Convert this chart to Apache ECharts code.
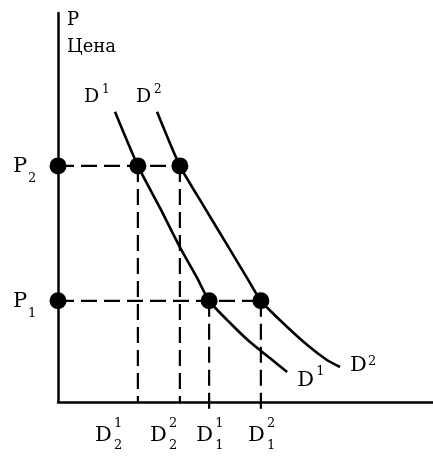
<!DOCTYPE html>
<html>
<head>
<meta charset="utf-8">
<script src="https://cdn.jsdelivr.net/npm/echarts@6/dist/echarts.min.js"></script>
<style>
html,body{margin:0;padding:0;background:#fff;}
#main{width:433px;height:456px;}
</style>
</head>
<body>
<div id="main"></div>
<script>
// кривые спроса (Q, P)
var d1Curve = [[15.2,74.6],[21.3,60.7],[27.2,49.9],[32.5,39.8],[37.1,31.9],[40.3,26.0],[45.9,20.3],[51.2,15.4],[56.5,11.3],[61.1,7.7]];
var d2Curve = [[26.4,74.6],[32.5,60.7],[38.7,50.6],[45.1,40.4],[50.4,31.9],[54.1,26.0],[60.0,20.3],[66.4,14.7],[71.7,10.8],[75.2,9.0]];

// уровни цен
var priceLevels = [26.0, 60.7];          // P1, P2
var priceSubs = ['1', '2'];

// объемы спроса: D2^1, D2^2, D1^1, D1^2
var qtyLevels = [21.3, 32.5, 40.3, 54.1];
var qtyPrice = [60.7, 60.7, 26.0, 26.0];
var qtySup = ['1', '2', '1', '2'];
var qtySub = ['2', '2', '1', '1'];

var FONT = '"DejaVu Serif", "Liberation Serif", serif';
var dash = [16, 7];
var tickDrop = -2;   // продление штриха под осью

var myChart = echarts.init(document.getElementById('main'));

// точки пересечения
var dots = [];
priceLevels.forEach(function(p){ dots.push([0, p]); });
qtyLevels.forEach(function(q, i){ dots.push([q, qtyPrice[i]]); });

// пунктирные линии
var dashSeries = [];
priceLevels.forEach(function(p, i){
	var maxQ = 0;
	qtyLevels.forEach(function(q, j){ if (qtyPrice[j] === p && q > maxQ) maxQ = q; });
	dashSeries.push([[0, p], [maxQ, p]]);
});
qtyLevels.forEach(function(q, i){
	var bottom = (qtyPrice[i] === priceLevels[0]) ? tickDrop : 0;
	dashSeries.push([[q, qtyPrice[i]], [q, bottom]]);
});

var series = [];
dashSeries.forEach(function(d){
	series.push({
		type: 'line', data: d, symbol: 'none', clip: false, silent: true,
		lineStyle: {color: '#000', width: 2.2, type: dash}
	});
});
series.push({
	type: 'line', data: d1Curve, smooth: 0.2, symbol: 'none', clip: false,
	lineStyle: {color: '#000', width: 2.6}
});
series.push({
	type: 'line', data: d2Curve, smooth: 0.2, symbol: 'none', clip: false,
	lineStyle: {color: '#000', width: 2.6}
});
series.push({
	type: 'scatter', data: dots, symbolSize: 17, clip: false,
	itemStyle: {color: '#000', opacity: 1}, z: 5
});

var option = {
	animation: false,
	backgroundColor: '#fff',
	grid: {left: 58, right: 0, top: 13, bottom: 54},
	xAxis: {
		type: 'value', min: 0, max: 100,
		axisLine: {show: true, lineStyle: {color: '#000', width: 2.5}},
		axisTick: {show: false}, axisLabel: {show: false}, splitLine: {show: false}
	},
	yAxis: {
		type: 'value', min: 0, max: 100,
		axisLine: {show: true, lineStyle: {color: '#000', width: 2.5}},
		axisTick: {show: false}, axisLabel: {show: false}, splitLine: {show: false}
	},
	series: series
};
myChart.setOption(option);

// подписи
function px(pt){ return myChart.convertToPixel({gridIndex: 0}, pt); }
function txt(text, x, y, size){
	return {
		type: 'text', x: x, y: y, silent: true, z: 10,
		style: {text: text, font: size + 'px ' + FONT, fill: '#000', textAlign: 'left', textVerticalAlign: 'middle'}
	};
}
var g = [];
var axisTop = px([0, 100]);
g.push(txt('P', axisTop[0] + 9, axisTop[1] + 7, 18));
g.push(txt('Цена', axisTop[0] + 9, axisTop[1] + 34, 18));

// D1, D2 у начала кривых
var s1 = px(d1Curve[0]), s2 = px(d2Curve[0]);
g.push(txt('D', s1[0] - 31, s1[1] - 15, 19));
g.push(txt('1', s1[0] - 13, s1[1] - 22, 12));
g.push(txt('D', s2[0] - 21, s2[1] - 15, 19));
g.push(txt('2', s2[0] - 3, s2[1] - 22, 12));

// D1, D2 у конца кривых
var e1 = px(d1Curve[d1Curve.length - 1]), e2 = px(d2Curve[d2Curve.length - 1]);
g.push(txt('D', e1[0] + 10, e1[1] + 8, 21));
g.push(txt('1', e1[0] + 29, e1[1], 13));
g.push(txt('D', e2[0] + 10, e2[1] - 1, 21));
g.push(txt('2', e2[0] + 28, e2[1] - 5, 13));

// P1, P2
priceLevels.forEach(function(p, i){
	var a = px([0, p]);
	g.push(txt('P', a[0] - 45, a[1] + 1, 21));
	g.push(txt(priceSubs[i], a[0] - 30, a[1] + 13, 13));
});

// подписи по оси Q
var qOffsets = [-43, -30, -13, -13];
qtyLevels.forEach(function(q, i){
	var a = px([q, 0]);
	var lx = a[0] + qOffsets[i];
	g.push(txt('D', lx, a[1] + 34, 21));
	g.push(txt(qtySup[i], lx + 19, a[1] + 22, 13));
	g.push(txt(qtySub[i], lx + 19, a[1] + 44, 13));
});

myChart.setOption({graphic: g});
</script>
</body>
</html>
